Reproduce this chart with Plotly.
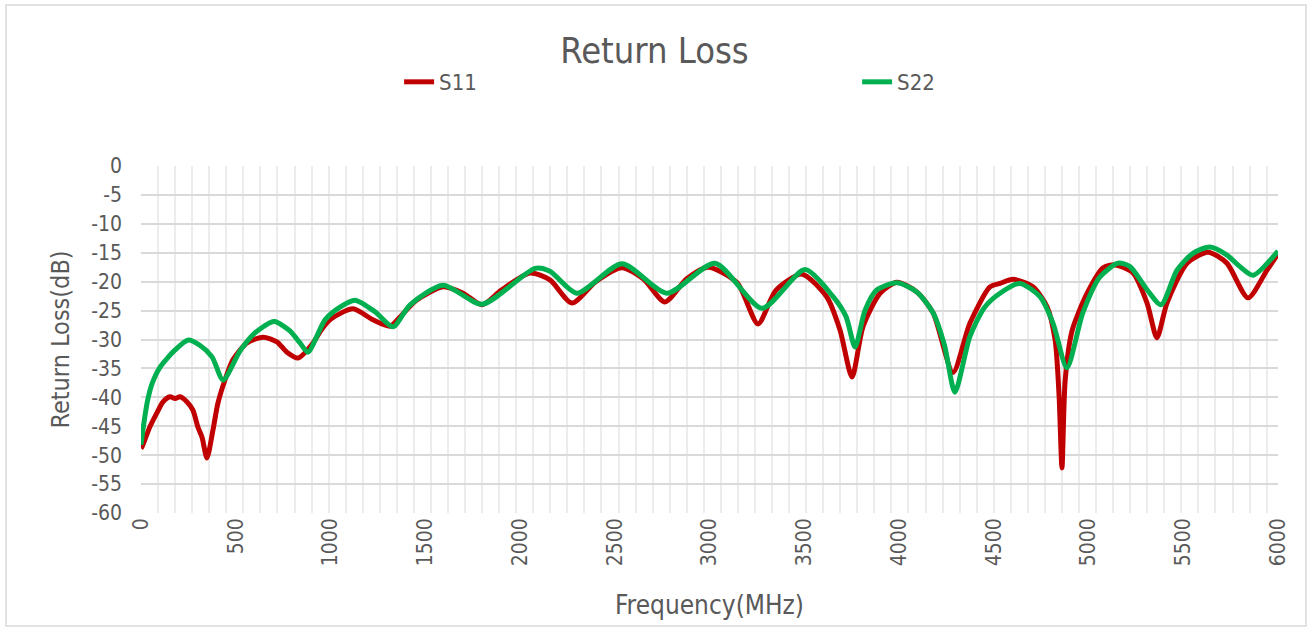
import plotly.graph_objects as go

# S11 trace (MHz, dB)
s11_freq = [0, 5, 47, 84, 116, 153, 180, 206, 243, 274, 300, 322, 348, 380, 406, 443, 485, 559, 644, 717, 770, 829,
            908, 950, 1000, 1119, 1224, 1314, 1367, 1450, 1594, 1700, 1800, 1900, 2053, 2158, 2274, 2400, 2538, 2650,
            2765, 2880, 2992, 3146, 3256, 3350, 3488, 3620, 3689, 3752, 3810, 3900, 3989, 4095, 4180, 4285, 4374,
            4480, 4533, 4603, 4708, 4782, 4824, 4845, 4860, 4877, 4914, 4993, 5077, 5140, 5235, 5309, 5361, 5414,
            5520, 5631, 5730, 5842, 5942, 6000]
s11_db = [-48.8, -48.6, -45.1, -42.7, -40.8, -39.9, -40.2, -39.9, -40.8, -42.2, -45.1, -46.9, -50.5, -45.6, -41.0,
          -37.0, -33.5, -30.6, -29.6, -30.4, -32.2, -33.2, -30.6, -28.4, -26.5, -24.7, -26.6, -27.7, -26.1, -23.3,
          -20.9, -22.0, -24.0, -21.5, -18.5, -19.7, -23.7, -20.0, -17.6, -19.5, -23.5, -19.5, -17.5, -20.2, -27.3,
          -21.5, -18.7, -22.7, -28.4, -36.5, -27.8, -22.0, -20.1, -21.8, -25.4, -35.7, -27.2, -20.9, -20.3, -19.6,
          -20.9, -24.4, -30.1, -39.9, -52.2, -37.0, -28.4, -22.0, -17.6, -17.1, -18.5, -23.7, -29.7, -23.7, -16.8,
          -14.9, -16.8, -22.8, -18.0, -15.2]

# S22 trace (MHz, dB)
s22_freq = [0, 15, 35, 60, 100, 180, 250, 310, 375, 433, 522, 600, 680, 707, 786, 839, 881, 971, 1050, 1129, 1235,
            1330, 1420, 1594, 1800, 2079, 2158, 2300, 2538, 2776, 3029, 3277, 3504, 3650, 3720, 3768, 3820, 3880,
            3989, 4095, 4180, 4240, 4295, 4374, 4450, 4533, 4638, 4744, 4813, 4886, 4970, 5060, 5156, 5219, 5309,
            5383, 5467, 5551, 5641, 5731, 5799, 5868, 6000]
s22_db = [-48.2, -44.5, -40.5, -37.5, -34.8, -31.8, -30.1, -31.0, -33.0, -37.0, -32.0, -28.9, -27.1, -26.9, -28.5,
          -30.6, -32.2, -26.6, -24.4, -23.2, -25.2, -27.8, -24.0, -20.6, -23.9, -17.7, -18.2, -22.0, -16.9, -22.0,
          -16.8, -24.6, -17.9, -22.5, -26.0, -31.3, -25.0, -21.5, -20.2, -21.8, -25.4, -31.0, -39.1, -29.5, -24.5,
          -22.0, -20.3, -22.6, -27.2, -34.9, -25.4, -19.2, -16.8, -17.4, -21.4, -24.0, -18.0, -15.1, -14.0, -15.4,
          -17.4, -18.9, -14.7]

x_ticks = list(range(0, 6001, 500))
y_ticks = list(range(0, -61, -5))

FONT = "DejaVu Sans Condensed, Roboto, sans-serif"
GRAY = "#595959"

fig = go.Figure()
fig.add_trace(go.Scatter(x=s11_freq, y=s11_db, name="S11", mode="lines",
                         line=dict(color="#c00000", width=5, shape="spline", smoothing=0.7)))
fig.add_trace(go.Scatter(x=s22_freq, y=s22_db, name="S22", mode="lines",
                         line=dict(color="#00b050", width=5, shape="spline", smoothing=0.7)))

fig.update_layout(
    width=1309, height=628,
    margin=dict(l=141, r=31, t=166, b=115, autoexpand=False),
    paper_bgcolor="white", plot_bgcolor="white",
    font=dict(family=FONT, color=GRAY),
    title=dict(text="Return Loss", x=0.5, xanchor="center", y=1 - 50 / 628, yanchor="middle",
               font=dict(size=36, color=GRAY, family=FONT)),
    legend=dict(orientation="h", x=0.227, xanchor="left", y=1.242, yanchor="middle",
                entrywidth=413, entrywidthmode="pixels", font=dict(size=22, color=GRAY),
                bgcolor="rgba(0,0,0,0)"),
    showlegend=True,
)

fig.update_xaxes(
    range=[0, 6000], tickmode="array", tickvals=x_ticks, ticktext=[str(v) for v in x_ticks],
    tickangle=-90, tickfont=dict(size=21, color=GRAY), showgrid=False, zeroline=False,
    showline=False, ticks="",
    minor=dict(dtick=90, tick0=0, showgrid=True, gridcolor="#ececec", gridwidth=1.5, ticks=""),
    title=dict(text="Frequency(MHz)", font=dict(size=26, color=GRAY), standoff=30),
)
fig.update_yaxes(
    range=[-60, 0], tickmode="array", tickvals=y_ticks, ticktext=[str(v) for v in y_ticks],
    tickfont=dict(size=21, color=GRAY), showgrid=True, gridcolor="#d9d9d9", gridwidth=1.5,
    zeroline=False, showline=False, ticks="", ticklabelstandoff=18,
    title=dict(text="Return Loss(dB)", font=dict(size=25, color=GRAY), standoff=14),
)

fig.add_shape(type="rect", xref="paper", yref="paper",
              x0=(6 - 141) / 1137, x1=(1306 - 141) / 1137,
              y0=(513 - 626) / 347, y1=(513 - 5) / 347,
              line=dict(color="#d9d9d9", width=1.5), fillcolor="rgba(0,0,0,0)", layer="below")

fig.write_html("out.html", config={"displayModeBar": False},
               post_script="document.body.style.margin='0';")
